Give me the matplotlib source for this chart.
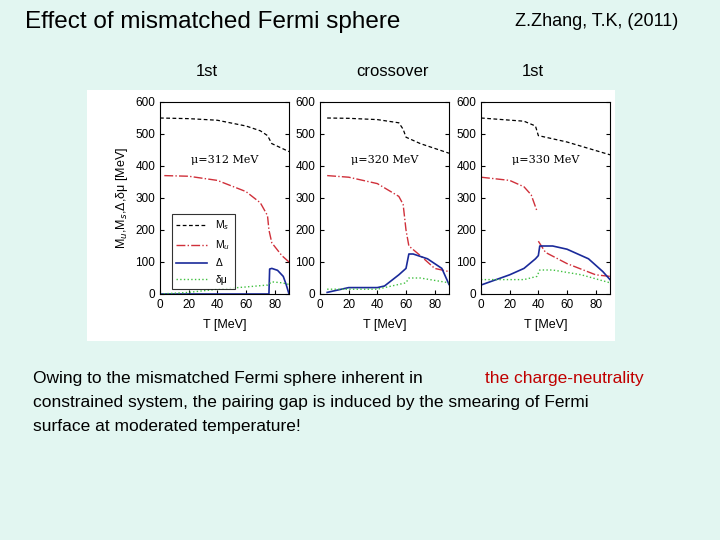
import numpy as np
import matplotlib.pyplot as plt

plt.rcParams['font.family'] = ['Liberation Sans', 'DejaVu Sans']

# panel data: (T, value)
p1_ms = [[0, 20, 40, 60, 70, 75, 78, 90], [550, 548, 543, 525, 510, 495, 470, 445]]
p1_mu = [[3, 20, 40, 60, 70, 75, 76, 78, 85, 90], [370, 368, 355, 320, 285, 245, 200, 160, 120, 100]]
p1_d = [[0, 76, 76.5, 78, 82, 86, 88, 90], [0, 0, 78, 80, 74, 55, 30, 0]]
p1_dm = [[0, 20, 40, 60, 75, 78, 85, 90], [0, 5, 15, 22, 28, 38, 35, 30]]

p2_ms = [[5, 20, 40, 55, 58, 60, 70, 90], [550, 549, 545, 535, 515, 490, 470, 440]]
p2_mu = [[5, 20, 40, 55, 58, 60, 62, 70, 80, 90], [370, 365, 345, 305, 280, 200, 150, 120, 80, 70]]
p2_d = [[5, 20, 40, 45, 55, 60, 62, 65, 75, 85, 90], [5, 20, 20, 25, 60, 80, 125, 125, 110, 80, 30]]
p2_dm = [[5, 40, 55, 60, 62, 70, 90], [15, 15, 30, 35, 50, 50, 35]]

p3_ms = [[0, 30, 38, 40, 60, 90], [550, 540, 525, 495, 475, 435]]
p3_mu_a = [[0, 20, 30, 35, 39], [365, 355, 335, 310, 260]]
p3_mu_b = [[40, 45, 60, 80, 90], [165, 130, 95, 60, 55]]
p3_d = [[0, 20, 30, 38, 40, 41, 50, 60, 75, 85, 90], [28, 60, 80, 110, 120, 150, 150, 140, 110, 70, 45]]
p3_dm = [[0, 30, 39, 41, 50, 70, 90], [45, 45, 55, 75, 75, 60, 35]]

panels = [
    ("\u03bc=312 MeV", p1_ms, [p1_mu], p1_d, p1_dm),
    ("\u03bc=320 MeV", p2_ms, [p2_mu], p2_d, p2_dm),
    ("\u03bc=330 MeV", p3_ms, [p3_mu_a, p3_mu_b], p3_d, p3_dm),
]

W, H = 720, 540
fig = plt.figure(figsize=(7.2, 5.4), dpi=100)
fig.patch.set_facecolor("#e2f6f1")

# white picture area
bg = fig.add_axes([87 / W, 1 - 341 / H, 528 / W, 251 / H])
bg.set_facecolor("white")
bg.set_xticks([])
bg.set_yticks([])
for s in bg.spines.values():
    s.set_visible(False)

lefts = [160, 320, 481]
for i, (lab, ms, mus, d, dm) in enumerate(panels):
    ax = fig.add_axes([lefts[i] / W, 1 - 294 / H, 129 / W, 192 / H])
    ax.plot(ms[0], ms[1], color="black", ls=(0, (3, 2)), lw=0.9)
    for mu in mus:
        ax.plot(mu[0], mu[1], color="#d0303a", ls="-.", lw=1.0)
    ax.plot(d[0], d[1], color="#1a2a9a", lw=1.2)
    ax.plot(dm[0], dm[1], color="#40c040", ls=":", lw=1.0)
    ax.set_xlim(0, 90)
    ax.set_ylim(0, 600)
    ax.set_xticks([0, 20, 40, 60, 80])
    ax.set_yticks(range(0, 601, 100))
    ax.tick_params(labelsize=8.5, direction="in", length=3, right=True, top=False)
    ax.set_xlabel("T [MeV]", fontsize=9, labelpad=6)
    ax.text(0.5, 0.68, lab, transform=ax.transAxes, ha="center", fontsize=8,
            family="DejaVu Serif")
    for s in ax.spines.values():
        s.set_linewidth(0.8)
    if i == 0:
        ax.set_ylabel("M$_u$,M$_s$,\u0394,\u03b4\u03bc [MeV]", fontsize=9)
        lg = ax.legend(["M$_s$", "M$_u$", "\u0394", "\u03b4\u03bc"], loc="lower left",
                       bbox_to_anchor=(0.05, 0.0), fontsize=7.5, frameon=True,
                       fancybox=False, edgecolor="black", handlelength=3,
                       labelspacing=0.6)
        lg.get_frame().set_linewidth(0.8)

fig.text(25 / W, 1 - 22 / H, "Effect of mismatched Fermi sphere", fontsize=17.5, va="center")
fig.text(515 / W, 1 - 22 / H, "Z.Zhang, T.K, (2011)", fontsize=13, va="center")
fig.text(207 / W, 1 - 71 / H, "1st", fontsize=12, va="center", ha="center")
fig.text(393 / W, 1 - 71 / H, "crossover", fontsize=12, va="center", ha="center")
fig.text(533 / W, 1 - 71 / H, "1st", fontsize=12, va="center", ha="center")

fs = 12.5
y0 = 1 - 378 / H
fig.text(33 / W, y0, "Owing to the mismatched Fermi sphere inherent in ", fontsize=fs, va="center")
fig.text(485 / W, y0, "the charge-neutrality", fontsize=fs, va="center", color="#c00000")
fig.text(33 / W, 1 - 402 / H, "constrained system, the pairing gap is induced by the smearing of Fermi",
         fontsize=fs, va="center")
fig.text(33 / W, 1 - 426 / H, "surface at moderated temperature!", fontsize=fs, va="center")

fig.savefig("out.png", dpi=100, facecolor=fig.get_facecolor())
